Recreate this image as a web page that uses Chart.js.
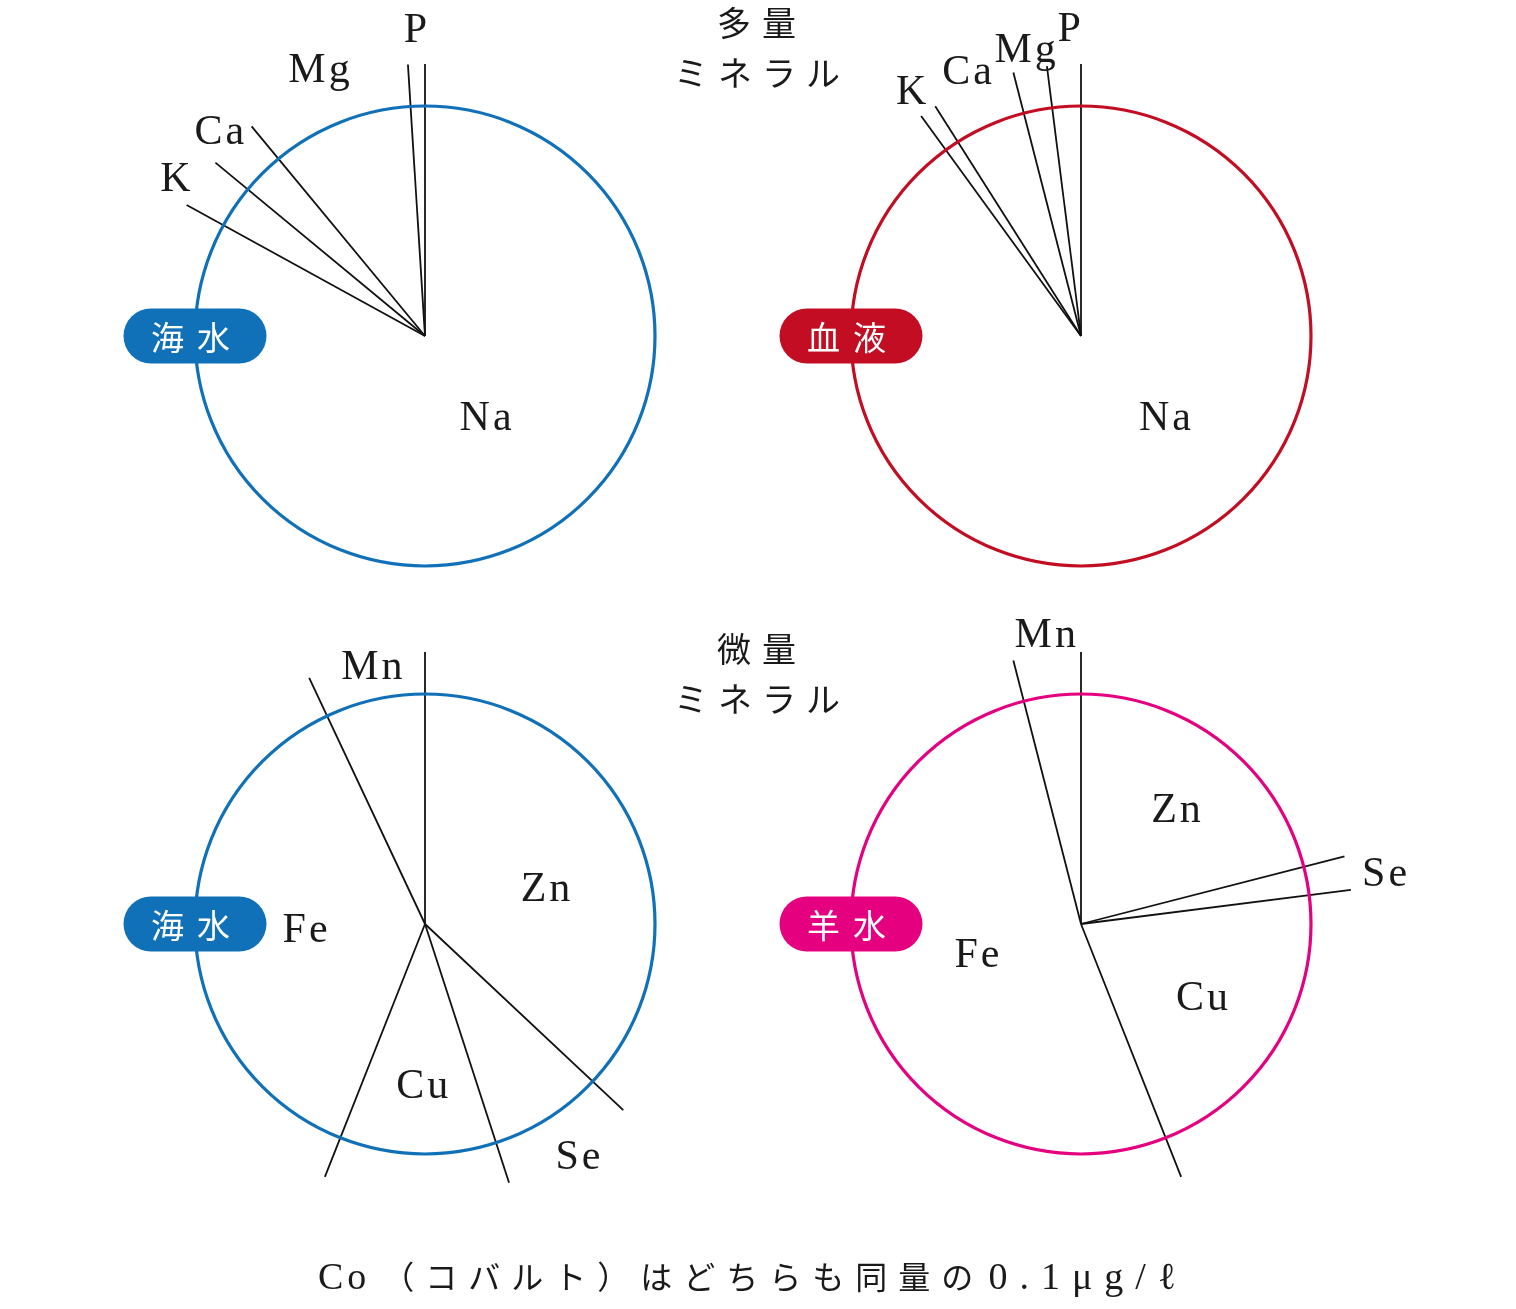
<!DOCTYPE html>
<html lang="ja">
<head>
<meta charset="utf-8">
<script src="https://cdn.jsdelivr.net/npm/chart.js@4"></script>
<style>
  html, body { margin: 0; padding: 0; background: #fff; }
  #page { position: relative; width: 1516px; height: 1309px; overflow: hidden; }
  canvas.pie { position: absolute; }
  .title {
    position: absolute; width: 240px; text-align: center;
    font-family: "Noto Sans CJK JP"; font-size: 34px; line-height: 34px; color: #1a1a1a;
  }
  #footer {
    position: absolute; left: 318px; top: 1255px; white-space: nowrap;
    line-height: 40px; color: #1a1a1a;
  }
  #footer .lat { font-family: "Liberation Serif"; font-size: 38px; }
  #footer .jp { font-family: "Noto Sans CJK JP"; font-size: 32px; letter-spacing: 11px; }
</style>
</head>
<body>
<div id="page">
  <canvas class="pie" id="seaMacro" width="680" height="680"></canvas>
  <canvas class="pie" id="bloodMacro" width="680" height="680"></canvas>
  <canvas class="pie" id="seaTrace" width="680" height="680"></canvas>
  <canvas class="pie" id="amnioticTrace" width="680" height="680"></canvas>

  <div class="title" style="left:642px; top:5px; letter-spacing:11px;">多量</div>
  <div class="title" style="left:642px; top:55px; letter-spacing:10px;">ミネラル</div>
  <div class="title" style="left:642px; top:631px; letter-spacing:11px;">微量</div>
  <div class="title" style="left:642px; top:681px; letter-spacing:10px;">ミネラル</div>

  <div id="footer"><span class="lat" style="letter-spacing:4px;">Co</span><span class="jp" style="margin-left:12px;">（コバルト）はどちらも同量の</span><span class="lat" style="letter-spacing:12px; margin-left:4px;">0.1μg/ℓ</span></div>
</div>

<script>
// share of each mineral (%), read clockwise from 12 o'clock
const macroLabels = ['Na', 'K', 'Ca', 'Mg', 'P'];
const seaMacroValues = [83, 3, 3, 10, 1];
const bloodMacroValues = [90, 1, 5, 2, 2];

const traceLabels = ['Zn', 'Se', 'Cu', 'Fe', 'Mn'];
const seaTraceValues = [37, 8, 11, 37, 7];
const amnioticTraceValues = [21, 2, 21, 52, 4];

// label placement: [distance from centre, angle shift in degrees from slice middle]
const seaMacroLabelPos = [[100, -6.7], [296, -1.7], [291, 0], [288, 0], [308, 0]];
const bloodMacroLabelPos = [[116, -28.4], [299, -0.4], [289, 0.2], [293, -0.2], [309, 1.4]];
const seaTraceLabelPos = [[126, 6.4], [277, -1.1], [160, -0.8], [120, -0.2], [264, 1]];
const amnioticTraceLabelPos = [[150, 1.5], [308, 1.1], [141, 0.2], [108, 2.4], [293, 0.2]];

const BLUE = '#1070b8';
const RED = '#c30d23';
const MAGENTA = '#e4007f';

/**
 * Draws the coloured ring, the black dividers, the element labels and the pill tag.
 */
const ringPlugin = {
    id: 'ring',
    afterDatasetsDraw (chart, args, opts) {
        let ctx = chart.ctx,
            arcs = chart.getDatasetMeta(0).data,
            labels = chart.data.labels,
            cx = arcs[0].x,
            cy = arcs[0].y,
            r = arcs[0].outerRadius

        ctx.save()

        // dividers, one on the start edge of every slice
        ctx.strokeStyle = '#111'
        ctx.lineWidth = 1.8
        arcs.forEach((a) => {
            ctx.beginPath()
            ctx.moveTo(cx, cy)
            ctx.lineTo(cx + Math.cos(a.startAngle) * opts.lineLength, cy + Math.sin(a.startAngle) * opts.lineLength)
            ctx.stroke()
        })

        // ring
        ctx.strokeStyle = opts.color
        ctx.lineWidth = 3.2
        ctx.beginPath()
        ctx.arc(cx, cy, r, 0, Math.PI * 2)
        ctx.stroke()

        // element names
        ctx.fillStyle = '#1a1a1a'
        ctx.font = '42px "Liberation Serif"'
        ctx.letterSpacing = '3px'
        ctx.textAlign = 'center'
        ctx.textBaseline = 'middle'
        arcs.forEach((a, i) => {
            let pos = opts.labelPos[i],
                ang = (a.startAngle + a.endAngle) / 2 + pos[1] * Math.PI / 180
            ctx.fillText(labels[i], cx + Math.cos(ang) * pos[0] + 1.5, cy + Math.sin(ang) * pos[0] + 3)
        })

        // pill tag sitting on the left edge of the ring
        let w = 143, h = 55, px = cx - r - w / 2, py = cy - h / 2
        ctx.fillStyle = opts.color
        ctx.beginPath()
        ctx.roundRect(px, py, w, h, h / 2)
        ctx.fill()
        ctx.fillStyle = '#fff'
        ctx.font = '33px "Noto Sans CJK JP"'
        ctx.letterSpacing = '13px'
        ctx.fillText(opts.pill, cx - r + 2, cy + 1)

        ctx.restore()
    }
}

/**
 * Builds one pie, centred on (cx, cy) of the page.
 */
function makePie (id, cx, cy, labels, values, color, pill, labelPos) {
    let canvas = document.getElementById(id)
    canvas.style.left = (cx - 340) + 'px'
    canvas.style.top = (cy - 340) + 'px'

    new Chart(canvas, {
        type: 'pie',
        data: {
            labels: labels,
            datasets: [{
                data: values,
                backgroundColor: 'rgba(0,0,0,0)',
                borderWidth: 0
            }]
        },
        options: {
            responsive: false,
            animation: false,
            events: [],
            radius: 230,
            layout: { padding: 0 },
            plugins: {
                legend: { display: false },
                tooltip: { enabled: false },
                ring: { color: color, pill: pill, labelPos: labelPos, lineLength: 272 }
            }
        },
        plugins: [ringPlugin]
    })
}

makePie('seaMacro', 425, 336, macroLabels, seaMacroValues, BLUE, '海水', seaMacroLabelPos)
makePie('bloodMacro', 1081, 336, macroLabels, bloodMacroValues, RED, '血液', bloodMacroLabelPos)
makePie('seaTrace', 425, 924, traceLabels, seaTraceValues, BLUE, '海水', seaTraceLabelPos)
makePie('amnioticTrace', 1081, 924, traceLabels, amnioticTraceValues, MAGENTA, '羊水', amnioticTraceLabelPos)
</script>
</body>
</html>
